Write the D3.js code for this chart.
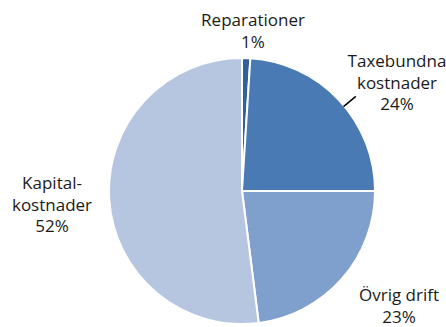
<!DOCTYPE html>
<html>
<head>
<meta charset="utf-8">
<script src="https://cdn.jsdelivr.net/npm/d3@7"></script>
<style>
  body { margin: 0; background: #fff; }
  text { font-family: "Open Sans", "Noto Sans", sans-serif; font-size: 17px; fill: #1a1a1a; font-variant-ligatures: none; }
</style>
</head>
<body>
<svg id="chart"></svg>
<script>
var categories = ["Reparationer", "Taxebundna kostnader", "Övrig drift", "Kapitalkostnader"];
var values = [1, 24, 23, 52];
var labelLines = [
    ["Reparationer", "1%"],
    ["Taxebundna", "kostnader", "24%"],
    ["Övrig drift", "23%"],
    ["Kapital-", "kostnader", "52%"]
];
var colors = ["#30619c", "#4a7ab4", "#7f9fcd", "#b7c6e0"];

const width = 446, height = 327;
const cx = 242, cy = 191, radius = 133;

var svg = d3.select("#chart").attr("width", width).attr("height", height);

var pie = d3.pie().sort(null).value(function(d) { return d; });
var arcs = pie(values);
var arc = d3.arc().innerRadius(0).outerRadius(radius);

var g = svg.append("g").attr("transform", "translate(" + cx + "," + cy + ")");

g.selectAll("path")
    .data(arcs)
    .enter().append("path")
    .attr("d", arc)
    .attr("fill", function(d, i) { return colors[i]; })
    .attr("stroke", "#fff")
    .attr("stroke-width", 2);

// label positions (relative to pie center), first-line baseline
var labelPos = [[11, -165], [155, -124], [157, 110], [-190, -2]];
var lineHeight = 21.5;

labelLines.forEach(function(lines, i) {
    var t = g.append("text")
        .attr("text-anchor", "middle")
        .attr("x", labelPos[i][0])
        .attr("y", labelPos[i][1]);
    lines.forEach(function(s, j) {
        t.append("tspan")
            .attr("x", labelPos[i][0])
            .attr("dy", j === 0 ? 0 : lineHeight)
            .text(s);
    });
});

// short radial leader line for Taxebundna
var a = arcs[1].startAngle + (arcs[1].endAngle - arcs[1].startAngle) * 0.54;
g.append("line")
    .attr("x1", Math.sin(a) * (radius - 1)).attr("y1", -Math.cos(a) * (radius - 1))
    .attr("x2", Math.sin(a) * (radius + 15)).attr("y2", -Math.cos(a) * (radius + 15))
    .attr("stroke", "#000").attr("stroke-width", 1.5);
</script>
</body>
</html>
